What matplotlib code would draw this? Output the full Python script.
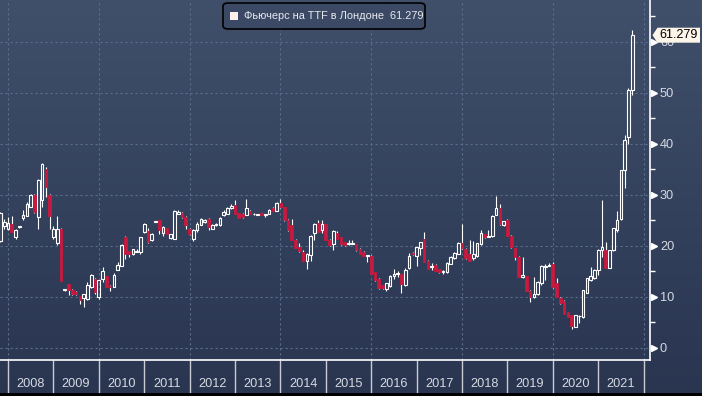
import numpy as np
import pandas as pd
import matplotlib
matplotlib.use('Agg')
import matplotlib.pyplot as plt
import matplotlib.transforms as mtransforms
from matplotlib.colors import LinearSegmentedColormap
from matplotlib.patches import FancyBboxPatch, Polygon, Rectangle

plt.rcParams['font.family'] = ['Liberation Sans', 'DejaVu Sans']

# --- данные: месячные свечи, ноябрь 2007 - октябрь 2021 ---
start_month = '2007-11-01'
series_name = 'Фьючерс на TTF в Лондоне'

opens = [
    20.9, 23.8,                                                              # 2007
    23.3, 24.3, 21.8, 23.6, 25.4, 25.9, 27.6, 30.0, 25.6, 28.9, 35.1, 30.0,  # 2008
    21.8, 20.5, 23.3, 11.3, 12.4, 11.4, 11.0, 10.1, 9.8, 9.6, 11.9, 13.5,    # 2009
    9.9, 13.5, 14.0, 12.1, 12.0, 15.3, 16.1, 21.8, 18.9, 18.3, 18.8, 18.8,   # 2010
    22.7, 22.8, 21.2, 24.7, 25.0, 22.5, 23.4, 21.6, 21.4, 26.3, 26.4, 25.7,  # 2011
    23.3, 21.4, 23.0, 24.1, 24.6, 25.3, 23.3, 24.0, 24.0, 26.0, 26.3, 27.3,  # 2012
    27.9, 26.4, 26.3, 26.1, 26.9, 26.2, 26.1, 26.4, 26.1, 26.3, 27.4, 26.9,  # 2013
    28.4, 27.5, 25.0, 24.0, 21.2, 19.7, 18.8, 17.0, 18.1, 22.5, 24.5, 23.0,  # 2014
    24.2, 21.2, 20.4, 22.4, 21.7, 20.7, 20.4, 20.4, 20.3, 19.4, 18.8, 17.9,  # 2015
    18.0, 14.8, 13.5, 12.2, 11.6, 12.1, 14.0, 14.4, 14.4, 12.2, 15.6, 18.6,  # 2016
    18.0, 19.6, 21.3, 17.1, 15.8, 16.3, 15.4, 14.8, 14.8, 16.5, 17.5, 18.4,  # 2017
    20.5, 19.4, 18.4, 17.5, 17.9, 20.4, 22.2, 21.8, 21.9, 26.1, 27.3, 24.0,  # 2018
    25.0, 22.0, 19.5, 17.8, 13.9, 14.0, 11.2, 9.9, 10.6, 12.6, 15.8, 16.1,   # 2019
    16.5, 12.6, 9.8, 9.2, 7.0, 6.4, 4.1, 6.2, 6.0, 10.8, 13.2, 13.6,         # 2020
    15.2, 19.1, 19.2, 15.7, 19.1, 23.1, 25.3, 34.8, 41.3, 50.5,              # 2021
]
highs = [
    26.6, 25.2,
    25.6, 25.9, 23.2, 23.9, 27.1, 28.6, 30.1, 30.2, 33.0, 36.3, 35.4, 30.2,
    23.8, 25.8, 23.5, 11.6, 12.5, 11.5, 11.1, 10.2, 10.6, 12.9, 14.4, 13.6,
    13.3, 15.8, 14.1, 12.2, 14.6, 16.8, 20.3, 21.9, 19.0, 19.4, 19.3, 21.8,
    24.4, 23.4, 22.4, 24.9, 25.1, 23.8, 23.5, 22.3, 27.0, 27.1, 26.6, 25.8,
    23.4, 23.2, 24.6, 25.5, 25.3, 25.4, 24.2, 24.5, 25.6, 27.1, 27.6, 28.1,
    28.9, 26.5, 26.4, 29.1, 27.0, 26.4, 26.2, 26.5, 26.3, 27.2, 27.5, 28.5,
    29.2, 27.6, 25.3, 25.3, 21.3, 20.5, 19.2, 18.5, 22.1, 24.4, 25.1, 25.0,
    24.3, 21.3, 23.0, 22.9, 21.8, 20.8, 21.1, 21.2, 20.4, 19.5, 18.9, 18.2,
    18.1, 14.9, 13.6, 12.3, 12.7, 14.3, 15.5, 15.1, 14.5, 15.6, 18.6, 18.7,
    19.8, 20.8, 22.7, 17.2, 16.6, 16.4, 15.5, 15.2, 16.8, 17.9, 18.7, 20.8,
    24.3, 19.5, 21.2, 21.0, 20.6, 23.0, 22.3, 23.0, 26.0, 29.7, 28.2, 24.9,
    25.2, 22.1, 19.6, 17.9, 17.8, 14.1, 11.3, 13.9, 13.0, 16.3, 16.4, 16.6,
    16.8, 13.6, 10.0, 9.3, 7.1, 6.5, 6.5, 6.4, 11.4, 13.7, 15.9, 15.5,
    19.4, 28.9, 20.7, 19.2, 23.5, 26.9, 34.9, 41.8, 51.0, 62.3,
]
lows = [
    20.7, 23.3,
    23.0, 22.6, 21.4, 23.5, 25.0, 25.8, 27.5, 26.4, 23.2, 27.6, 29.5, 23.3,
    21.4, 20.2, 13.0, 11.2, 10.3, 10.4, 10.4, 8.5, 8.0, 9.4, 11.8, 10.5,
    9.6, 12.9, 11.9, 11.2, 11.9, 15.2, 16.0, 17.3, 17.7, 18.1, 18.7, 18.4,
    22.4, 20.6, 21.0, 24.7, 22.3, 22.0, 22.2, 21.4, 21.3, 26.2, 25.4, 23.3,
    22.1, 21.0, 22.7, 24.0, 24.5, 23.1, 23.2, 23.9, 23.9, 25.9, 26.2, 27.2,
    26.2, 25.4, 25.5, 26.0, 26.2, 26.1, 26.0, 26.0, 25.6, 26.2, 26.8, 26.8,
    27.4, 24.9, 22.9, 21.1, 19.5, 18.8, 17.0, 15.5, 17.1, 21.2, 22.6, 22.4,
    21.1, 19.9, 19.2, 21.3, 20.2, 20.0, 20.1, 20.3, 18.9, 18.3, 17.9, 16.8,
    14.4, 13.1, 11.6, 11.5, 11.2, 12.0, 13.5, 13.8, 10.7, 12.1, 15.5, 18.2,
    16.1, 18.1, 16.8, 15.4, 15.3, 15.0, 14.7, 14.5, 14.7, 16.4, 17.4, 18.3,
    19.4, 17.4, 17.0, 17.2, 17.8, 20.2, 21.6, 21.7, 21.8, 26.0, 24.0, 23.8,
    21.9, 19.6, 17.2, 13.8, 13.7, 11.1, 9.0, 9.7, 10.4, 12.2, 13.3, 16.0,
    11.8, 9.9, 8.5, 6.6, 6.0, 3.6, 4.0, 4.8, 5.9, 10.7, 13.1, 13.5,
    14.2, 17.8, 15.6, 15.6, 19.0, 22.6, 25.0, 31.4, 40.0, 49.6,
]
closes = [
    26.4, 24.6,
    24.4, 22.7, 23.0, 23.8, 26.1, 28.2, 29.9, 26.6, 32.8, 36.1, 31.5, 25.8,
    23.2, 23.2, 13.1, 11.5, 11.4, 10.5, 10.5, 9.4, 10.5, 12.2, 14.2, 10.9,
    13.2, 15.0, 12.0, 11.9, 14.2, 16.3, 20.2, 18.4, 18.4, 19.3, 19.0, 21.7,
    24.2, 20.7, 22.2, 24.9, 23.0, 23.7, 22.3, 22.2, 26.9, 26.6, 25.6, 24.0,
    22.2, 23.0, 24.3, 25.3, 25.1, 23.7, 24.0, 24.3, 25.5, 26.6, 27.3, 27.7,
    26.3, 25.5, 25.6, 27.3, 26.3, 26.3, 26.2, 26.1, 26.2, 27.1, 26.9, 28.4,
    27.5, 25.0, 23.0, 21.2, 19.6, 18.9, 17.1, 18.4, 22.0, 24.3, 22.7, 24.2,
    21.2, 20.1, 22.9, 21.4, 20.3, 20.1, 20.6, 20.6, 19.1, 18.4, 18.0, 18.1,
    14.5, 13.2, 11.7, 11.7, 12.6, 14.1, 14.5, 14.6, 12.4, 15.3, 17.9, 18.3,
    19.7, 20.7, 16.9, 15.5, 16.0, 15.1, 14.8, 15.0, 16.7, 17.8, 18.6, 20.5,
    19.6, 17.5, 17.1, 18.3, 20.5, 22.5, 21.7, 22.0, 25.9, 27.3, 24.2, 24.8,
    22.0, 19.7, 17.8, 13.9, 14.3, 11.2, 10.0, 10.6, 12.9, 16.1, 16.0, 16.3,
    11.9, 10.0, 8.7, 6.7, 6.1, 4.2, 6.4, 6.3, 11.3, 13.6, 14.0, 15.3,
    19.1, 19.7, 15.7, 19.1, 23.4, 25.1, 34.8, 40.8, 50.5, 61.279,
]
year_labels = [str(y) for y in range(2008, 2022)]
y_major = [0, 10, 20, 30, 40, 50, 60]
y_minor = [5, 15, 25, 35, 45, 55, 65]

# --- цвета ---
RED = '#c8193e'
WHITE = '#ffffff'
GRID = '#5a6e8c'
LABEL = '#d5d9e1'

W, H = 702, 396
o = np.array(opens)
c = np.array(closes)
hi = np.maximum(np.array(highs), np.maximum(o, c))
lo = np.minimum(np.array(lows), np.minimum(o, c))
dates = pd.date_range(start_month, periods=len(c), freq='MS')
x = dates.year + (dates.month - 1) / 12.0

fig = plt.figure(figsize=(W / 100, H / 100), dpi=100)

# фон с градиентом
bg = fig.add_axes([0, 0, 1, 1], zorder=-10)
cmap = LinearSegmentedColormap.from_list('bg', ['#404f6a', '#34425d', '#2a3550'])
bg.imshow(np.linspace(0, 1, 256)[:, None], aspect='auto', cmap=cmap,
          extent=[0, 1, 0, 1], origin='upper')
bg.set_axis_off()

ax = fig.add_axes([0, 36 / H, 650 / W, 360 / H])
ax.set_facecolor('none')
ax.set_xlim(2008 - 8 / 45.4, 2008 + 642 / 45.4)
ax.set_ylim(-2.41, 68.18)

# сетка
for yr in range(2008, 2023, 2):
    ax.axvline(yr, color=GRID, lw=0.8, ls=(0, (2, 2.5)), zorder=0)
for v in y_major:
    ax.axhline(v, color=GRID, lw=0.8, ls=(0, (2, 2.5)), zorder=0)

# свечи
up = c >= o
bw = 0.7 / 12
body_lo = np.minimum(o, c)
body_hi = np.maximum(o, c)
ax.vlines(x, body_hi, hi, color=WHITE, lw=0.8, zorder=3)
ax.vlines(x, lo, body_lo, color=WHITE, lw=0.8, zorder=3)
ax.bar(x[up], (c - o)[up], bottom=o[up], width=bw, facecolor='none',
       edgecolor=WHITE, linewidth=0.8, zorder=4)
ax.bar(x[~up], (o - c)[~up], bottom=c[~up], width=bw, facecolor=RED,
       edgecolor=RED, linewidth=0.6, zorder=4)

# оси
for s in ['left', 'top']:
    ax.spines[s].set_visible(False)
for s in ['right', 'bottom']:
    ax.spines[s].set_color(WHITE)
    ax.spines[s].set_linewidth(1.2)

ax.set_xticks(range(2008, 2023))
ax.set_xticklabels([])
ax.set_xticks([y + 0.5 for y in range(2008, 2022)], minor=True)
ax.set_xticklabels(year_labels, minor=True)
ax.tick_params(axis='x', which='major', length=24, width=1, color='#c9ccd3', direction='out')
ax.tick_params(axis='x', which='minor', length=0, pad=13, labelsize=9.2, labelcolor=LABEL)

ax.yaxis.tick_right()
ax.set_yticks(y_major)
ax.set_yticks(y_minor, minor=True)
ax.tick_params(axis='y', which='major', length=0, pad=7.2, labelsize=9.2, labelcolor=LABEL)
ax.tick_params(axis='y', which='minor', length=3.6, width=1, color=WHITE, direction='out')

# треугольники у основных делений
tri_tr = mtransforms.offset_copy(
    mtransforms.blended_transform_factory(ax.transAxes, ax.transData),
    fig=fig, x=2.6, y=0, units='points')
ax.plot(np.ones(len(y_major)), y_major, transform=tri_tr, ls='none', marker='>',
        ms=5, color=WHITE, mec=WHITE, clip_on=False, zorder=5)

# метка последней цены
last = c[-1]
fig.canvas.draw()
_, yp = ax.transData.transform((x[-1], last))
xa = 650 + 2.5
tag = Polygon([(xa, yp), (xa + 5, yp + 7.5), (W - 2, yp + 7.5), (W - 2, yp - 7.5),
               (xa + 5, yp - 7.5)], closed=True, transform=None,
              facecolor='#fdf5ea', edgecolor='none', zorder=10)
fig.patches.append(tag)
fig.text((xa + 5 + W - 2) / 2 / W, yp / H, f'{last:.3f}', ha='center', va='center',
         fontsize=9, color='black', zorder=11)

# легенда
leg = FancyBboxPatch((223 / W, 1 - 29 / H), 202 / W, 26 / H,
                     boxstyle='round,pad=0,rounding_size=0.008',
                     transform=fig.transFigure, facecolor='#3b4964',
                     edgecolor='black', lw=1.2, zorder=10)
fig.patches.append(leg)
fig.patches.append(Rectangle((230 / W, 1 - 20 / H), 7.5 / W, 8 / H,
                             transform=fig.transFigure, facecolor='#fdf0ec',
                             edgecolor='none', zorder=11))
fig.text(244 / W, 1 - 16 / H, f'{series_name}  {last:.3f}', ha='left', va='center',
         fontsize=7.9, color='#e6e8ee', zorder=12)

# тёмная полоса внизу
fig.patches.append(Rectangle((0, 0), 1, 3 / H, transform=fig.transFigure,
                             facecolor='black', edgecolor='none', zorder=12))

fig.savefig('out.png', dpi=100)
